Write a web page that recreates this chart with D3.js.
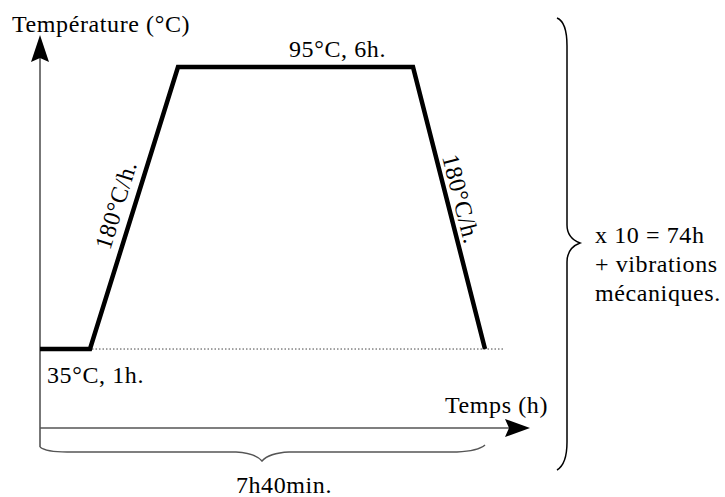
<!DOCTYPE html>
<html>
<head>
<meta charset="utf-8">
<script src="https://cdn.jsdelivr.net/npm/d3@7"></script>
<style>
  html, body { margin: 0; padding: 0; background: #fff; }
</style>
</head>
<body>
<svg width="725" height="497"></svg>
<script>
const width = 725;
const height = 497;

// cycle thermique (schéma, abscisse non proportionnelle)
const phaseTimes = [0, 1, 2.76, 7.46, 8.9];
const phaseTemps = [35, 35, 95, 95, 35];
const phaseLabels = ["35°C, 1h.", "180°C/h.", "95°C, 6h.", "180°C/h."];
const axisLabels = ["Température (°C)", "Temps (h)"];
const totalLabel = "7h40min.";
const repeatLabels = ["x 10 = 74h", "+ vibrations", "mécaniques."];

const svg = d3.select("svg")
    .attr("font-family", "'Liberation Serif', serif")
    .attr("letter-spacing", "0.6px");

const x = d3.scaleLinear().domain([0, 10]).range([40, 540]);
const y = d3.scaleLinear().domain([18.2, 101.8]).range([428, 35]);

const x0 = x(0), y0 = y(18.2);

// axes
svg.append("line")
    .attr("x1", x0).attr("x2", x0)
    .attr("y1", y(97)).attr("y2", y0 + 19)
    .attr("stroke", "#555").attr("stroke-width", 1.6);
svg.append("line")
    .attr("x1", x0).attr("x2", x(9.4))
    .attr("y1", y0).attr("y2", y0)
    .attr("stroke", "#555").attr("stroke-width", 1.6);

// arrow heads
const yt = y(101.8);
svg.append("path")
    .attr("d", `M${x0},${yt} L${x0 + 9},${yt + 27} L${x0},${yt + 23} L${x0 - 9},${yt + 27} Z`)
    .attr("fill", "#000");
const xt = x(9.8);
svg.append("path")
    .attr("d", `M${xt},${y0} L${xt - 25},${y0 + 9} L${xt - 21},${y0} L${xt - 25},${y0 - 9} Z`)
    .attr("fill", "#000");

// dotted reference at 35°C
svg.append("line")
    .attr("x1", x(1.04)).attr("x2", x(9.3))
    .attr("y1", y(35)).attr("y2", y(35))
    .attr("stroke", "#444").attr("stroke-width", 1)
    .attr("stroke-dasharray", "1.5,2");

// temperature profile
const profile = phaseTimes.map((t, i) => [t, phaseTemps[i]]);
svg.append("path")
    .datum(profile)
    .attr("d", d3.line().x(d => x(d[0])).y(d => y(d[1])))
    .attr("fill", "none")
    .attr("stroke", "#000")
    .attr("stroke-width", 4.5)
    .attr("stroke-linejoin", "miter");

// texts
svg.append("text").attr("x", 12).attr("y", 32)
    .attr("font-size", 24).text(axisLabels[0]);
svg.append("text").attr("x", 548).attr("y", 413)
    .attr("text-anchor", "end").attr("font-size", 24).text(axisLabels[1]);

svg.append("text").attr("x", x(0) + 7).attr("y", 383)
    .attr("font-size", 24).text(phaseLabels[0]);
svg.append("text").attr("x", (x(phaseTimes[2]) + x(phaseTimes[3])) / 2 + 42).attr("y", 57)
    .attr("text-anchor", "middle").attr("font-size", 24).text(phaseLabels[2]);

// ramp labels, rotated along the slopes
function rampLabel(i, off, txt) {
    const ax = x(phaseTimes[i]), ay = y(phaseTemps[i]);
    const bx = x(phaseTimes[i + 1]), by = y(phaseTemps[i + 1]);
    let ang = Math.atan2(by - ay, bx - ax) * 180 / Math.PI;
    if (ang < -90) ang += 180;
    if (ang > 90) ang -= 180;
    const cx = (ax + bx) / 2 + off[0], cy = (ay + by) / 2 + off[1];
    svg.append("text")
        .attr("transform", `translate(${cx},${cy}) rotate(${ang})`)
        .attr("text-anchor", "middle")
        .attr("dominant-baseline", "central")
        .attr("font-size", 24)
        .text(txt);
}
rampLabel(1, [-18, -3], phaseLabels[1]);
rampLabel(3, [12, -9], phaseLabels[3]);

// bottom brace (total duration)
const bb = 452;
svg.append("path")
    .attr("d", `M${x0},${bb - 5} Q${x0 + 6},${bb} ${x0 + 27},${bb} L236,${bb} Q255,${bb + 1} 262,${bb + 9} Q269,${bb + 1} 289,${bb} L457,${bb} Q478,${bb - 1} ${x(8.9)},${bb - 7}`)
    .attr("fill", "none").attr("stroke", "#555").attr("stroke-width", 1.5);
svg.append("text").attr("x", 284).attr("y", 493)
    .attr("text-anchor", "middle").attr("font-size", 24).text(totalLabel);

// right brace (cycle repeated)
const rx = 567;
svg.append("path")
    .attr("d", `M557,18 Q${rx},22 ${rx},46 L${rx},225 Q${rx},238 580,243 Q${rx},248 ${rx},262 L${rx},442 Q${rx},464 557,470`)
    .attr("fill", "none").attr("stroke", "#000").attr("stroke-width", 1.5);

svg.selectAll("text.rep")
    .data(repeatLabels)
    .join("text")
    .attr("class", "rep")
    .attr("x", 595)
    .attr("y", (d, i) => 243 + i * 29)
    .attr("font-size", 24)
    .text(d => d);
</script>
</body>
</html>
